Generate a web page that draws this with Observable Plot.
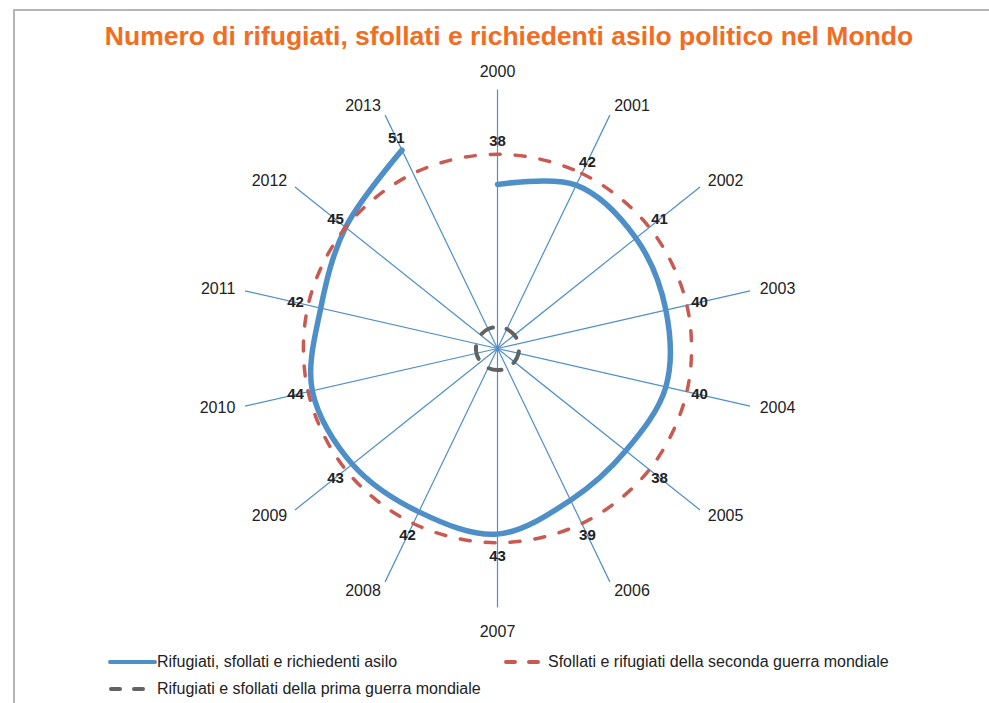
<!DOCTYPE html>
<html>
<head>
<meta charset="utf-8">
<script src="https://cdn.jsdelivr.net/npm/d3@7"></script>
<script src="https://cdn.jsdelivr.net/npm/@observablehq/plot@0.6"></script>
<style>
  body { margin: 0; background: #fff; font-family: "Liberation Sans", Arial, sans-serif; }
  #wrap { position: relative; width: 989px; height: 703px; overflow: hidden; background: #fff; }
  #frame { position: absolute; left: 13px; top: 9px; width: 1000px; height: 720px;
           border-top: 2px solid #b5b5b5; border-left: 2px solid #b5b5b5; }
  #title { position: absolute; top: 20px; left: 0; width: 1018px; text-align: center;
           font-weight: bold; font-size: 26.5px; line-height: 32px; color: #f26d21; white-space: nowrap; }
  #chart { position: absolute; left: 0; top: 56px; }
  .leg { position: absolute; display: flex; align-items: center; font-size: 16px; color: #222; white-space: nowrap; }
</style>
</head>
<body>
<div id="wrap">
  <div id="frame"></div>
  <div id="title"></div>
  <div id="chart"></div>
  <div id="legend"></div>
</div>
<script>
// ---- data ----
const years = ["2000","2001","2002","2003","2004","2005","2006","2007","2008","2009","2010","2011","2012","2013"];
const refugees = [38, 42, 41, 40, 40, 38, 39, 43, 42, 43, 44, 42, 45, 51];
const ww2Value = 45;
const ww1Value = 5;
const seriesNames = [
  "Rifugiati, sfollati e richiedenti asilo",
  "Sfollati e rifugiati della seconda guerra mondiale",
  "Rifugiati e sfollati della prima guerra mondiale"
];
const titleText = "Numero di rifugiati, sfollati e richiedenti asilo politico nel Mondo";
const axisMax = 60;

// ---- style ----
const BLUE = "#4f8fc8", RED = "#c85a52", GREY = "#626262", INK = "#222";

document.getElementById("title").textContent = titleText;

const N = years.length;
const ang = i => i * 2 * Math.PI / N;
const polar = (v, i) => ({ x: v * Math.sin(ang(i)), y: v * Math.cos(ang(i)) });

const main = years.map((yr, i) => ({ year: yr, value: refugees[i], ...polar(refugees[i], i) }));
const ww2 = years.map((yr, i) => ({ year: yr, value: ww2Value, ...polar(ww2Value, i) }));
const ww1 = years.map((yr, i) => ({ year: yr, value: ww1Value, ...polar(ww1Value, i) }));
const spokes = years.map((yr, i) => ({ year: yr, ...polar(axisMax, i) }));
const valueLabels = main.map((d, i) => ({ ...d, ...polar(Math.max(d.value, ww2Value) + 3, i) }));
const yearLabels = years.map((yr, i) => ({ year: yr, s: Math.sin(ang(i)), ...polar(axisMax + 2.3, i) }));

const K = 4.317, R = 65, cx = 497, cy = 292;

const chart = Plot.plot({
  width: 989,
  height: 589,
  x: { domain: [-R, R], range: [cx - R * K, cx + R * K], axis: null },
  y: { domain: [-R, R], range: [cy + R * K, cy - R * K], axis: null },
  style: { fontFamily: "'Liberation Sans', Arial, sans-serif", background: "transparent" },
  marks: [
    Plot.link(spokes, { x1: 0, y1: 0, x2: "x", y2: "y", stroke: BLUE, strokeWidth: 1.2 }),
    Plot.line(main, { x: "x", y: "y", curve: "catmull-rom", stroke: BLUE, strokeWidth: 5.5, strokeLinecap: "round", strokeLinejoin: "round" }),
    Plot.line(ww2, { x: "x", y: "y", curve: "catmull-rom-closed", stroke: RED, strokeWidth: 3.5, strokeDasharray: "10,15", strokeLinecap: "round" }),
    Plot.line(ww1, { x: "x", y: "y", curve: "catmull-rom-closed", stroke: GREY, strokeWidth: 4, strokeDasharray: "13,14", strokeLinecap: "round" }),
    Plot.text(valueLabels, { x: "x", y: "y", text: d => String(d.value), fontWeight: "bold", fontSize: 15, fill: INK }),
    Plot.text(yearLabels.filter(d => d.s > 0.01), { x: "x", y: "y", text: "year", textAnchor: "start", fontSize: 16, fill: INK }),
    Plot.text(yearLabels.filter(d => d.s < -0.01), { x: "x", y: "y", text: "year", textAnchor: "end", fontSize: 16, fill: INK }),
    Plot.text(yearLabels.filter(d => Math.abs(d.s) <= 0.01 && d.y > 0), { x: "x", y: "y", text: "year", lineAnchor: "bottom", dy: -3, fontSize: 16, fill: INK }),
    Plot.text(yearLabels.filter(d => Math.abs(d.s) <= 0.01 && d.y < 0), { x: "x", y: "y", text: "year", lineAnchor: "top", dy: 8, fontSize: 16, fill: INK })
  ]
});
document.getElementById("chart").appendChild(chart);

// ---- legend ----
const legend = document.getElementById("legend");
const items = [
  { name: seriesNames[0], color: BLUE, dash: null, left: 107, top: 662, w: 50 },
  { name: seriesNames[1], color: RED, dash: "9,14", left: 502, top: 662, w: 46 },
  { name: seriesNames[2], color: GREY, dash: "9,14", left: 107, top: 689, w: 50 }
];
items.forEach(it => {
  const div = document.createElement("div");
  div.className = "leg";
  div.style.left = it.left + "px";
  div.style.top = (it.top - 10) + "px";
  div.style.height = "20px";
  const line = it.dash
    ? `<line x1="4" y1="10" x2="37" y2="10" stroke="${it.color}" stroke-width="4" stroke-linecap="round" stroke-dasharray="${it.dash}"/>`
    : `<line x1="3" y1="10" x2="${it.w - 2}" y2="10" stroke="${it.color}" stroke-width="4" stroke-linecap="round"/>`;
  div.innerHTML = `<svg width="${it.w}" height="20">${line}</svg><span>${it.name}</span>`;
  legend.appendChild(div);
});
</script>
</body>
</html>
